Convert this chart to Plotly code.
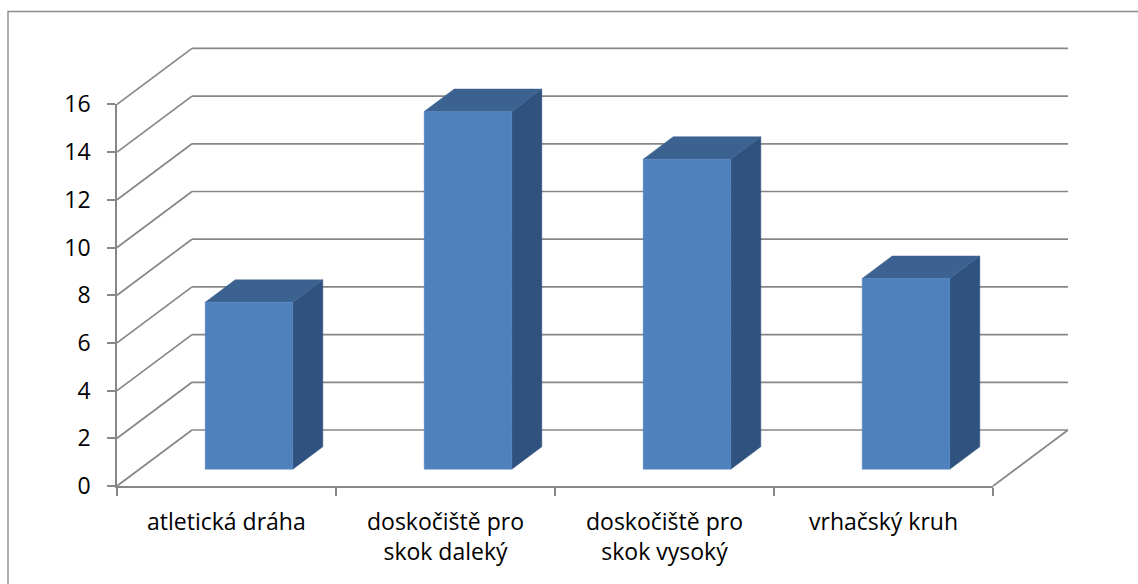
import plotly.graph_objects as go

# --- data -----------------------------------------------------------------
categories = [
    "atletická dráha",
    "doskočiště pro<br>skok daleký",
    "doskočiště pro<br>skok vysoký",
    "vrhačský kruh",
]
values = [7, 15, 13, 8]
y_ticks = [0, 2, 4, 6, 8, 10, 12, 14, 16]

# --- layout geometry ------------------------------------------------------
W, H = 1138, 584
AX_LEFT, AX_RIGHT = 117, 993        # front category axis (px)
AX_BOTTOM, AX_TOP = 486, 104.4      # value 0 and value 16 on the front axis (px)
PX_PER_CAT = (AX_RIGHT - AX_LEFT) / len(categories)
PX_PER_VAL = (AX_BOTTOM - AX_TOP) / y_ticks[-1]

# oblique depth of the 3-D box, expressed in axis units
DX = 75 / PX_PER_CAT
DY = 56 / PX_PER_VAL

# bar footprint inside each category slot
HALF_W = 0.2
D_FRONT, D_BACK = 0.3, 0.7

GRID = "#878787"
FRONT = "#4f81bd"
TOP = "#3c6291"
SIDE = "#30527f"
FONT = "Open Sans"

fig = go.Figure()

# walls: back wall and side wall gridlines, floor edge
shapes = []
n = len(categories)
for v in y_ticks:
    shapes.append(dict(type="line", xref="x", yref="y", x0=DX, x1=n + DX,
                       y0=v + DY, y1=v + DY, line=dict(color=GRID, width=1.7),
                       layer="below"))
    shapes.append(dict(type="line", xref="x", yref="y", x0=0, x1=DX,
                       y0=v, y1=v + DY, line=dict(color=GRID, width=1.7),
                       layer="below"))
shapes.append(dict(type="line", xref="x", yref="y", x0=n, x1=n + DX,
                   y0=0, y1=DY, line=dict(color=GRID, width=1.7), layer="below"))

# chart border (top and left edges)
shapes.append(dict(type="rect", xref="paper", yref="paper",
                   x0=8 / W, x1=1.05, y0=-0.05, y1=(H - 11.5) / H,
                   line=dict(color="#8c8c8c", width=1.4), fillcolor="rgba(0,0,0,0)"))


def face(xs, ys, color):
    fig.add_trace(go.Scatter(
        x=xs + [xs[0]], y=ys + [ys[0]], mode="lines", fill="toself",
        fillcolor=color, line=dict(color=color, width=0.5),
        hoverinfo="skip", showlegend=False, xaxis="x", yaxis="y"))


for i, val in enumerate(values):
    c = i + 0.5
    xl_f, xr_f = c - HALF_W + D_FRONT * DX, c + HALF_W + D_FRONT * DX
    xl_b, xr_b = c - HALF_W + D_BACK * DX, c + HALF_W + D_BACK * DX
    yb_f, yb_b = D_FRONT * DY, D_BACK * DY
    # side face
    face([xr_f, xr_b, xr_b, xr_f], [yb_f, yb_b, val + yb_b, val + yb_f], SIDE)
    # top face
    face([xl_f, xr_f, xr_b, xl_b], [val + yb_f, val + yb_f, val + yb_b, val + yb_b], TOP)
    # front face
    face([xl_f, xr_f, xr_f, xl_f], [yb_f, yb_f, val + yb_f, val + yb_f], FRONT)

# empty trace so the front axes subplot is created
fig.add_trace(go.Scatter(x=[None], y=[None], xaxis="x2", yaxis="y2",
                         showlegend=False, hoverinfo="skip"))

# category labels under the front axis
annotations = []
for i, label in enumerate(categories):
    annotations.append(dict(
        x=i + 0.5, y=0, xref="x2", yref="y2", text=label, showarrow=False,
        xanchor="center", yanchor="top", yshift=-17, align="center",
        font=dict(family=FONT, size=23, color="#000000")))

fig.update_layout(
    template="none",
    width=W, height=H, autosize=False, showlegend=False,
    margin=dict(l=0, r=0, t=0, b=0, pad=0, autoexpand=False),
    paper_bgcolor="white", plot_bgcolor="rgba(0,0,0,0)",
    shapes=shapes, annotations=annotations,
    xaxis=dict(domain=[0, 1], range=[-AX_LEFT / PX_PER_CAT, (W - AX_LEFT) / PX_PER_CAT],
               visible=False, fixedrange=True, automargin=False),
    yaxis=dict(domain=[0, 1], range=[-(H - AX_BOTTOM) / PX_PER_VAL, AX_BOTTOM / PX_PER_VAL],
               visible=False, fixedrange=True, automargin=False),
    xaxis2=dict(domain=[AX_LEFT / W, AX_RIGHT / W], range=[0, n], anchor="y2",
                showline=True, linecolor=GRID, linewidth=1.7,
                tickmode="array", tickvals=list(range(n + 1)),
                ticks="outside", ticklen=8, tickwidth=1.7, tickcolor=GRID,
                showticklabels=False, showgrid=False, zeroline=False,
                fixedrange=True, automargin=False),
    yaxis2=dict(domain=[(H - AX_BOTTOM) / H, (H - AX_TOP) / H], range=[0, y_ticks[-1]],
                anchor="x2", showline=True, linecolor=GRID, linewidth=1.7,
                tickmode="array", tickvals=y_ticks, ticktext=[str(t) for t in y_ticks],
                ticks="outside", ticklen=8, tickwidth=1.7, tickcolor=GRID,
                ticklabelstandoff=12,
                tickfont=dict(family=FONT, size=23, color="#000000"),
                showgrid=False, zeroline=False, fixedrange=True, automargin=False),
)

fig.write_html("out.html")
